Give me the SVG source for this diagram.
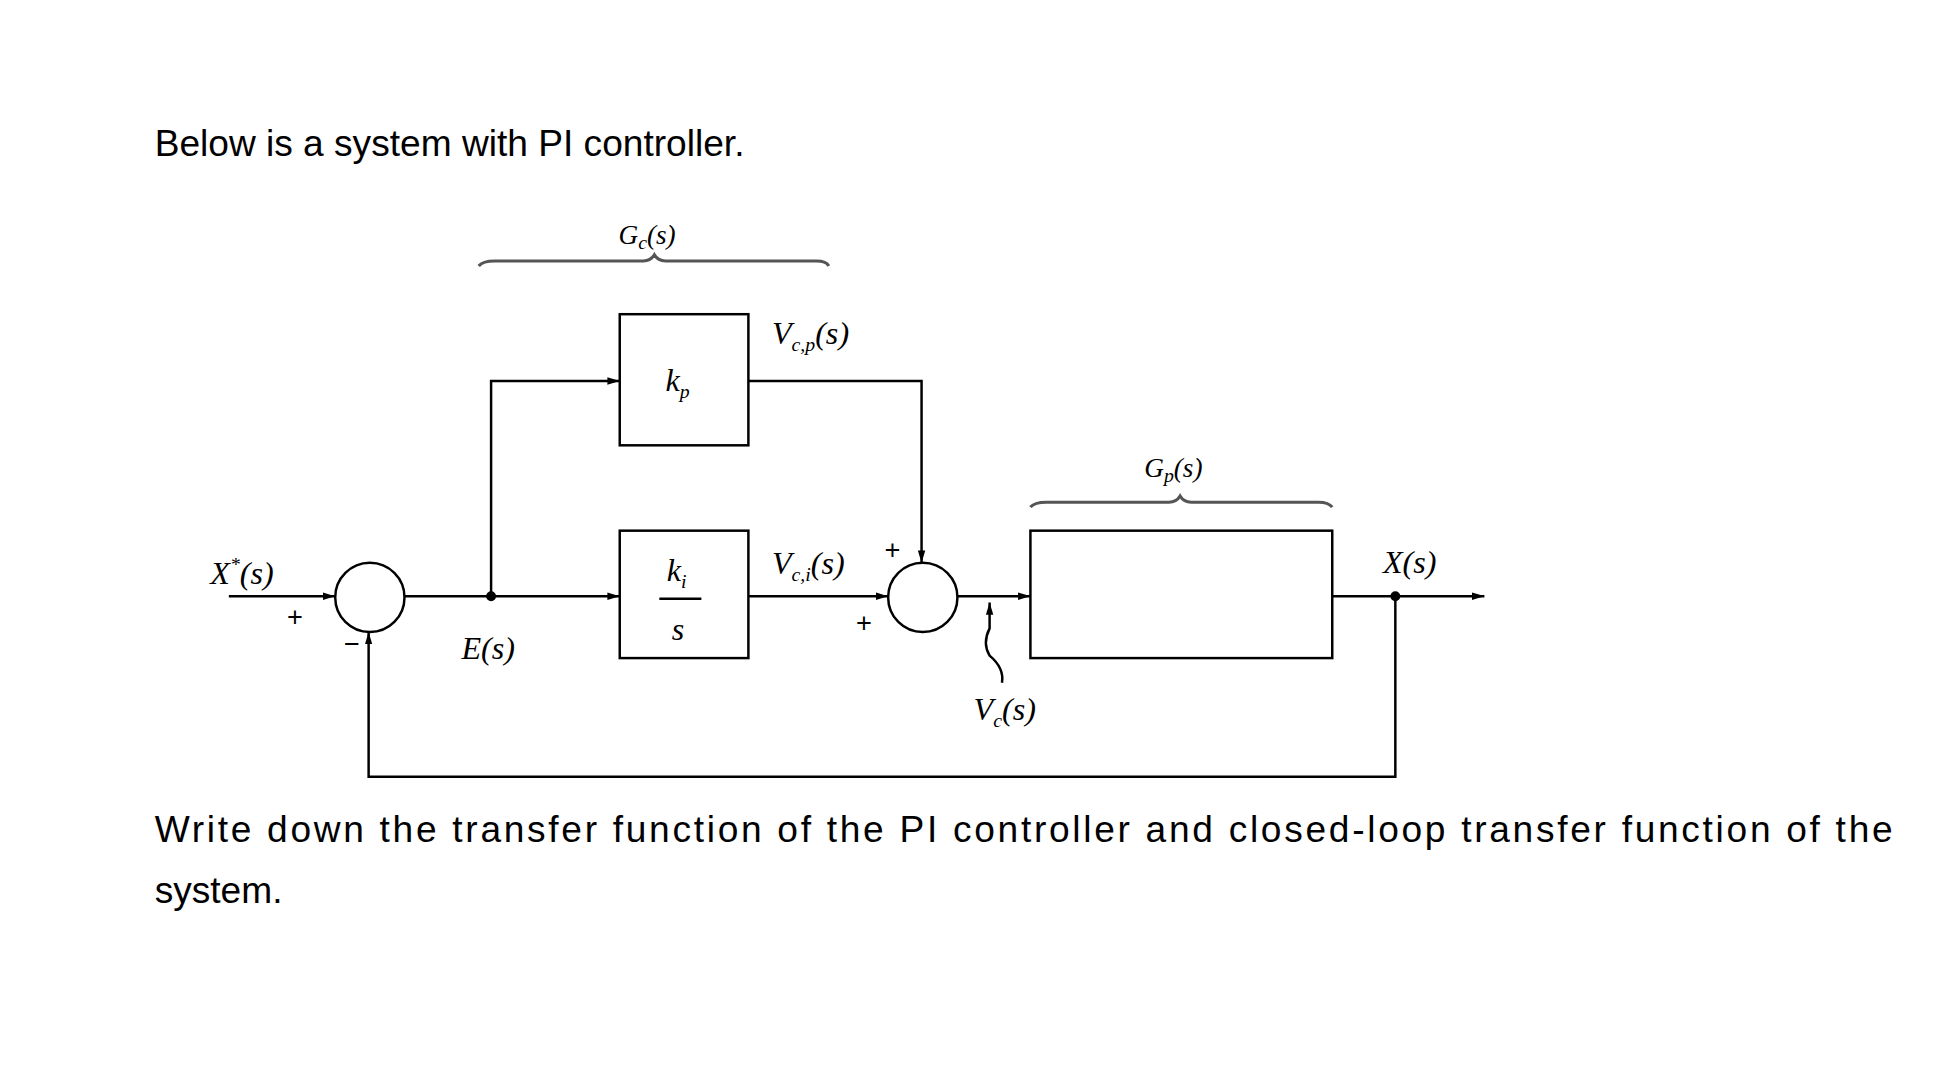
<svg xmlns="http://www.w3.org/2000/svg" width="1942" height="1080" viewBox="0 0 1942 1080">
<style>
.t{font-family:"Liberation Sans",Arial,sans-serif;font-size:30px;fill:#000}
.m{font-family:"Liberation Serif","Times New Roman",serif;font-style:italic;font-size:26px;fill:#000}
.s{font-size:16px}
.ln{fill:none;stroke:#000;stroke-width:2}
.bx{fill:#fff;stroke:#000;stroke-width:2}
.br{fill:none;stroke:#555;stroke-width:2.5}
</style>
<defs><marker id="a" markerWidth="10" markerHeight="8" refX="10" refY="4" orient="auto" markerUnits="userSpaceOnUse"><path d="M0,1 L10,4 L0,7z" fill="#000"/></marker></defs>
<rect width="1942" height="1080" fill="#fff"/>
<g transform="scale(1.237)">
<text class="t" x="125" y="126">Below is a system with PI controller.</text>
<text class="t" x="125" y="681" textLength="1405">Write down the transfer function of the PI controller and closed-loop transfer function of the</text>
<text class="t" x="125" y="730">system.</text>
<g id="connectors">
<path class="ln" d="M185,482 H271" marker-end="url(#a)"/>
<path class="ln" d="M327,482 H501" marker-end="url(#a)"/>
<path class="ln" d="M397,482 V308 H501" marker-end="url(#a)"/>
<path class="ln" d="M605,308 H745 V455" marker-end="url(#a)"/>
<path class="ln" d="M605,482 H718" marker-end="url(#a)"/>
<path class="ln" d="M774,482 H833" marker-end="url(#a)"/>
<path class="ln" d="M1077,482 H1200" marker-end="url(#a)"/>
<path class="ln" d="M1128,482 V628 H298 V511" marker-end="url(#a)"/>
<path class="ln" d="M810,552 Q812,540 800,530 Q794,520 800,508 V487" marker-end="url(#a)"/>
<circle cx="397" cy="482" r="4"/>
<circle cx="1128" cy="482" r="4"/>
</g>
<g id="sum1"><circle class="bx" cx="299" cy="483" r="28"/></g>
<g id="sum2"><circle class="bx" cx="746" cy="483" r="28"/></g>
<g id="kp"><rect class="bx" x="501" y="254" width="104" height="106"/><text class="m" x="538" y="316">k<tspan class="s" dy="6">p</tspan></text></g>
<g id="ki"><rect class="bx" x="501" y="429" width="104" height="103"/><text class="m" x="539" y="470">k<tspan class="s" dy="5">i</tspan></text><line class="ln" x1="533" y1="484" x2="567" y2="484"/><text class="m" x="543" y="517">s</text></g>
<g id="plant"><rect class="bx" x="833" y="429" width="244" height="103"/></g>
<g id="gc"><path class="br" d="M387,215 Q390,211 400,211 H520 Q526,211 529,206 Q532,211 538,211 H660 Q668,211 670,215"/><text class="m" x="500" y="197" style="font-size:22px">G<tspan class="s" dy="4">c</tspan><tspan dy="-4">(s)</tspan></text></g>
<g id="gp"><path class="br" d="M833,410 Q836,406 846,406 H945 Q951,406 954,401 Q957,406 963,406 H1066 Q1074,406 1077,410"/><text class="m" x="925" y="386" style="font-size:22px">G<tspan class="s" dy="4">p</tspan><tspan dy="-4">(s)</tspan></text></g>
<text class="m" x="170" y="472">X<tspan class="s" dy="-10">*</tspan><tspan dy="10">(s)</tspan></text>
<text class="t" x="232" y="506" style="font-size:22px">+</text>
<text class="t" x="278" y="528" style="font-size:22px">−</text>
<text class="m" x="373" y="533">E(s)</text>
<text class="m" x="624" y="278">V<tspan class="s" dy="6">c,p</tspan><tspan dy="-6">(s)</tspan></text>
<text class="m" x="624" y="464">V<tspan class="s" dy="6">c,i</tspan><tspan dy="-6">(s)</tspan></text>
<text class="t" x="715" y="452" style="font-size:22px">+</text>
<text class="t" x="692" y="511" style="font-size:22px">+</text>
<text class="m" x="787" y="582">V<tspan class="s" dy="6">c</tspan><tspan dy="-6">(s)</tspan></text>
<text class="m" x="1118" y="463">X(s)</text>
</g>
</svg>
